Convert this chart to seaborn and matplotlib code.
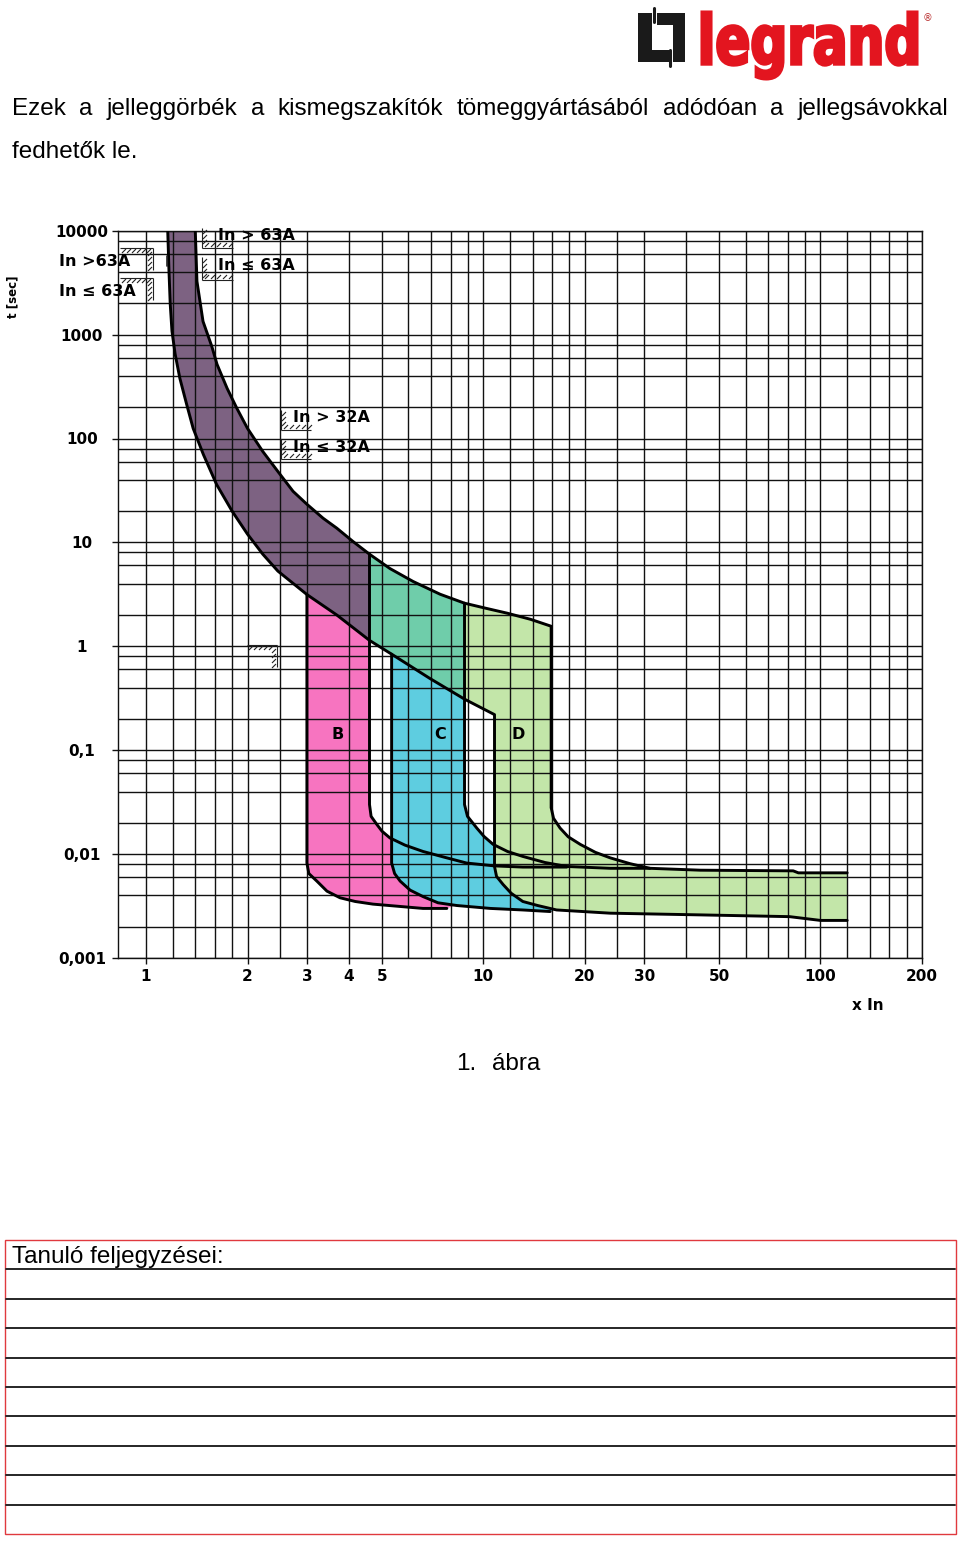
import numpy as np
import matplotlib
matplotlib.use("Agg")
import matplotlib.pyplot as plt
import seaborn as sns
from matplotlib.ticker import FixedLocator, FixedFormatter, NullFormatter
from matplotlib.patches import Rectangle, PathPatch
from matplotlib.textpath import TextPath
from matplotlib.font_manager import FontProperties
from matplotlib.transforms import Affine2D

# ---------------- data (x = multiples of In, t = seconds) ----------------
x_major = [1, 2, 3, 4, 5, 10, 20, 30, 50, 100, 200]
x_labels = ["1", "2", "3", "4", "5", "10", "20", "30", "50", "100", "200"]
x_minor = [1.2, 1.4, 1.6, 1.8, 2.5, 6, 7, 8, 9, 12, 14, 16, 18, 25, 40,
           60, 70, 80, 90, 120, 140, 160, 180]
y_major = [0.001, 0.01, 0.1, 1, 10, 100, 1000, 10000]
y_labels = ["0,001", "0,01", "0,1", "1", "10", "100", "1000", "10000"]
y_minor_mult = [2, 4, 6, 8]

# thermal band: lower and upper boundary
L_x = [1.16, 1.17, 1.18, 1.194, 1.22, 1.26, 1.32, 1.38, 1.48, 1.62, 1.80, 2.0, 2.22,
       2.46, 3.0, 3.68, 4.6, 5.35, 6.95, 8.8, 10.8]
L_t = [10000, 4060, 1960, 1080, 650, 380, 213, 125, 70, 36, 20, 12, 7.7,
       5.3, 3.15, 2.0, 1.14, 0.84, 0.49, 0.31, 0.22]
U_x = [1.40, 1.416, 1.476, 1.567, 1.624, 1.74, 1.86, 2.0, 2.22, 2.5, 2.73, 3.0,
       3.35, 3.68, 4.11, 4.6, 5.29, 6.2, 7.45, 8.8, 10.2, 11.8, 13.8, 15.9]
U_t = [10000, 3260, 1340, 771, 518, 304, 195, 125, 75, 45, 31, 23.3,
       17.1, 13.7, 10.2, 7.7, 5.6, 4.2, 3.17, 2.6, 2.32, 2.08, 1.82, 1.56]

# magnetic bands B, C, D (lower-left and upper-right boundaries)
B_lo_x = [3.0, 3.0, 3.04, 3.21, 3.44, 3.76, 4.17, 4.71, 6.63, 7.8]
B_lo_t = [3.15, 0.0082, 0.0065, 0.0055, 0.0044, 0.0038, 0.0035, 0.0033, 0.0030, 0.0030]
B_hi_x = [4.6, 4.6, 4.65, 4.83, 5.01, 5.29, 5.86, 6.63, 7.70, 8.93, 10.8, 13.1, 17.7]
B_hi_t = [7.7, 0.030, 0.0231, 0.0194, 0.0166, 0.0143, 0.0122, 0.0106, 0.0093, 0.0082,
          0.0077, 0.0075, 0.0075]

C_lo_x = [5.35, 5.35, 5.46, 5.67, 6.07, 6.63, 7.34, 8.35, 10.5, 13.1, 15.8]
C_lo_t = [0.84, 0.0082, 0.0065, 0.0055, 0.0045, 0.0039, 0.0034, 0.0032, 0.0030, 0.0029, 0.0028]
C_hi_x = [8.8, 8.8, 8.98, 9.57, 10.05, 10.7, 11.8, 13.1, 15.25, 17.7, 23.8, 31.2]
C_hi_t = [2.6, 0.030, 0.0231, 0.0178, 0.0148, 0.0124, 0.0106, 0.0095, 0.0083, 0.0076,
          0.0073, 0.0073]

D_lo_x = [10.8, 10.8, 10.95, 11.45, 12.1, 13.1, 14.5, 16.5, 23.8, 44, 81, 100, 120]
D_lo_t = [0.22, 0.0076, 0.0061, 0.0051, 0.0042, 0.0035, 0.0032, 0.0029, 0.0027, 0.0026,
          0.0025, 0.0023, 0.0023]
D_hi_x = [15.9, 15.9, 16.16, 16.9, 17.85, 19.4, 21.5, 23.8, 27.2, 31.2, 44, 83, 86, 120]
D_hi_t = [1.56, 0.028, 0.0221, 0.0178, 0.0147, 0.0124, 0.0104, 0.0092, 0.0081, 0.0073,
          0.0070, 0.0069, 0.0066, 0.0066]

band_labels = ["B", "C", "D"]
band_label_x = [3.71, 7.45, 12.7]
band_label_t = [0.142, 0.142, 0.142]

col_purple = "#7d6282"
col_teal = "#6fcdaa"
col_pink = "#f774c0"
col_cyan = "#5ecde0"
col_lgreen = "#c3e6a9"

# ---------------- figure ----------------
sns.set_theme(style="white")
plt.rcParams["font.family"] = ["DejaVu Sans"]
plt.rcParams["text.color"] = "black"
plt.rcParams["xtick.color"] = "black"
plt.rcParams["ytick.color"] = "black"
plt.rcParams["xtick.labelcolor"] = "black"
plt.rcParams["ytick.labelcolor"] = "black"

fig = plt.figure(figsize=(9.6, 15.42), dpi=100)
fig.patch.set_facecolor("white")

ax = fig.add_axes([118 / 960, 1 - 958 / 1542, (922 - 118) / 960, (958 - 230.7) / 1542])
ax.set_facecolor("white")
ax.set_xscale("log")
ax.set_yscale("log")

Lx, Lt = np.array(L_x), np.array(L_t)
Ux, Ut = np.array(U_x), np.array(U_t)


def band_poly(lo_x, lo_t, hi_x, hi_t):
    lo_x, lo_t, hi_x, hi_t = map(np.array, (lo_x, lo_t, hi_x, hi_t))
    lm = Lx <= lo_x[0] + 1e-9
    um = Ux <= hi_x[0] + 1e-9
    px = np.concatenate([Lx[lm], lo_x[1:], hi_x[1:][::-1], Ux[um][::-1]])
    pt = np.concatenate([Lt[lm], lo_t[1:], hi_t[1:][::-1], Ut[um][::-1]])
    return px, pt


def thermal_poly(a, b):
    lm = (Lx >= a - 1e-9) & (Lx <= b + 1e-9)
    um = (Ux >= a - 1e-9) & (Ux <= b + 1e-9)
    return (np.concatenate([Lx[lm], Ux[um][::-1]]),
            np.concatenate([Lt[lm], Ut[um][::-1]]))


for (lx, lt, hx, ht), col in [((B_lo_x, B_lo_t, B_hi_x, B_hi_t), col_pink),
                              ((C_lo_x, C_lo_t, C_hi_x, C_hi_t), col_cyan),
                              ((D_lo_x, D_lo_t, D_hi_x, D_hi_t), col_lgreen)]:
    px, pt = band_poly(lx, lt, hx, ht)
    ax.fill(px, pt, color=col, lw=0, zorder=1)

px, pt = thermal_poly(B_hi_x[0], C_hi_x[0])
ax.fill(px, pt, color=col_teal, lw=0, zorder=1.1)
px, pt = thermal_poly(0, B_hi_x[0])
ax.fill(px, pt, color=col_purple, lw=0, zorder=1.2)

# outlines
curves = [
    (list(L_x) + D_lo_x[1:], list(L_t) + D_lo_t[1:]),
    (list(U_x) + D_hi_x[1:], list(U_t) + D_hi_t[1:]),
    (B_lo_x, B_lo_t), (B_hi_x, B_hi_t),
    (C_lo_x, C_lo_t), (C_hi_x, C_hi_t),
]
for cx, ct in curves:
    sns.lineplot(x=cx, y=ct, sort=False, estimator=None, color="black",
                 lw=2.1, ax=ax, zorder=3)
for ln in ax.lines:
    ln.set_solid_joinstyle("round")

for lab, bx, bt in zip(band_labels, band_label_x, band_label_t):
    ax.text(bx, bt, lab, ha="center", va="center", fontsize=11.5,
            fontweight="heavy", color="black", zorder=4)

ax.set_xlim(0.826, 200)
ax.set_ylim(0.001, 10000)

ax.xaxis.set_major_locator(FixedLocator(x_major))
ax.xaxis.set_major_formatter(FixedFormatter(x_labels))
ax.xaxis.set_minor_locator(FixedLocator(x_minor))
ax.xaxis.set_minor_formatter(NullFormatter())
y_minor = [m * 10.0 ** k for k in range(-3, 4) for m in y_minor_mult]
ax.yaxis.set_major_locator(FixedLocator(y_major))
ax.yaxis.set_major_formatter(FixedFormatter(y_labels))
ax.yaxis.set_minor_locator(FixedLocator(y_minor))
ax.yaxis.set_minor_formatter(NullFormatter())

ax.grid(True, which="both", color="#111111", lw=1.0)
ax.set_axisbelow(False)
ax.tick_params(which="minor", length=0)
ax.tick_params(which="major", length=4, width=1.0, color="#111111",
               direction="out", labelsize=11, labelcolor="black")
ax.tick_params(axis="x", which="major", pad=4, bottom=True)
ax.tick_params(axis="y", which="major", pad=22, left=True)
for lbl in ax.get_xticklabels() + ax.get_yticklabels():
    lbl.set_fontweight("bold")
for lbl in ax.get_yticklabels():
    lbl.set_horizontalalignment("center")
for s in ax.spines.values():
    s.set_visible(True)
    s.set_color("#111111")
    s.set_linewidth(1.0)
ax.set_xlabel("")
ax.set_ylabel("")

# ---------------- overlay in pixel coordinates ----------------
ov = fig.add_axes([0, 0, 1, 1], facecolor="none")
ov.set_xlim(0, 960)
ov.set_ylim(1542, 0)
ov.axis("off")
ov.set_zorder(5)

sans = ["Liberation Sans", "DejaVu Sans"]

# justified intro text
words1 = ["Ezek", "a", "jelleggörbék", "a", "kismegszakítók", "tömeggyártásából",
          "adódóan", "a", "jellegsávokkal"]
tobjs = [ov.text(0, 115, w, fontsize=17.5, family=sans, va="baseline", ha="left",
                 color="black")
         for w in words1]
fig.canvas.draw()
r = fig.canvas.get_renderer()
widths = [t.get_window_extent(r).width for t in tobjs]
gap = (948 - 12 - sum(widths)) / (len(words1) - 1)
xx = 12
for t, w in zip(tobjs, widths):
    t.set_position((xx, 115))
    xx += w + gap
ov.text(12, 158, "fedhetők le.", fontsize=17.5, family=sans, va="baseline", color="black")

# caption
ov.text(456, 1070, "1.", fontsize=17.5, family=sans, va="baseline", color="black")
ov.text(492, 1070, "ábra", fontsize=17.5, family=sans, va="baseline", color="black")

# axis titles
ov.text(868, 1005, "x In", fontsize=11, fontweight="bold", ha="center", va="center",
        color="black")
ov.text(13, 297, "t [sec]", fontsize=8.5, fontweight="heavy", ha="center",
        va="center", rotation=90, color="black")


def hatch_corner(x0, y0, x1, y1, kind):
    kw = dict(color="#222222", lw=0.8, solid_capstyle="butt")
    if kind == "tr":
        ov.plot([x0, x1], [y0, y0], **kw)
        ov.plot([x1, x1], [y0, y1], **kw)
        for hx in np.arange(x0 + 2, x1 - 3, 5):
            ov.plot([hx, hx + 4], [y0 + 5, y0 + 1], **kw)
        for hy in np.arange(y0 + 4, y1 - 1, 5):
            ov.plot([x1 - 5, x1 - 1], [hy + 4, hy], **kw)
    else:
        ov.plot([x0, x0], [y0, y1], **kw)
        ov.plot([x0, x1], [y1, y1], **kw)
        for hy in np.arange(y0 + 2, y1 - 3, 5):
            ov.plot([x0 + 1, x0 + 5], [hy + 4, hy], **kw)
        for hx in np.arange(x0 + 3, x1, 6):
            ov.plot([hx, hx + 4], [y1 - 1, y1 - 5], **kw)


hatch_corner(120, 248, 153, 270, "tr")
hatch_corner(120, 278, 153, 300, "tr")
hatch_corner(202, 228, 233, 248, "bl")
hatch_corner(202, 257, 233, 280, "bl")
hatch_corner(281, 410, 311, 430, "bl")
hatch_corner(281, 439, 311, 459, "bl")
hatch_corner(247, 645, 277, 667, "tr")
ov.plot([167, 167], [256, 266], color="#222222", lw=1.2)

lkw = dict(fontsize=11.5, fontweight="heavy", va="center", ha="left", color="black")
ov.text(59, 261, "In >63A", **lkw)
ov.text(59, 291, "In ≤ 63A", **lkw)
ov.text(218, 236, "In > 63A", **lkw)
ov.text(218, 266, "In ≤ 63A", **lkw)
ov.text(293, 418, "In > 32A", **lkw)
ov.text(293, 447, "In ≤ 32A", **lkw)

# notes table
ov.add_patch(Rectangle((5, 1240), 951, 294, fill=False, ec="#e0393e", lw=1.0))
for k in range(9):
    yy = 1240 + 29.4 * (k + 1)
    ov.plot([6, 955], [yy, yy], color="#262626", lw=1.4)
ov.text(12, 1263, "Tanuló feljegyzései:", fontsize=17.5, family=sans, va="baseline",
        color="black")

# logo
tp = TextPath((0, 0), "legrand", size=100,
              prop=FontProperties(family="DejaVu Sans", weight="bold"))
bb = tp.get_extents()
sx = (917 - 702) / bb.width
sy = (79 - 12) / bb.height
tr = Affine2D().translate(-bb.x0, -bb.y1).scale(sx, -sy).translate(702, 12) + ov.transData
ov.add_patch(PathPatch(tp, transform=tr, fc="#e3151f", ec="#e3151f", lw=2.2))
ov.text(927, 18, "®", fontsize=7, color="#b33", ha="center", va="center")
for (rx, ry, rw, rh) in [(638, 13, 14, 49), (638, 50, 32, 12), (657, 13, 28, 12),
                         (673, 13, 12, 49)]:
    ov.add_patch(Rectangle((rx, ry), rw, rh, color="#1a1a1a", lw=0))
ov.plot([653.5, 653.5], [8, 22], color="#1a1a1a", lw=2.2)
ov.plot([670, 670], [50, 66], color="#1a1a1a", lw=2.2)

fig.savefig("out.png", dpi=100, facecolor="white")
